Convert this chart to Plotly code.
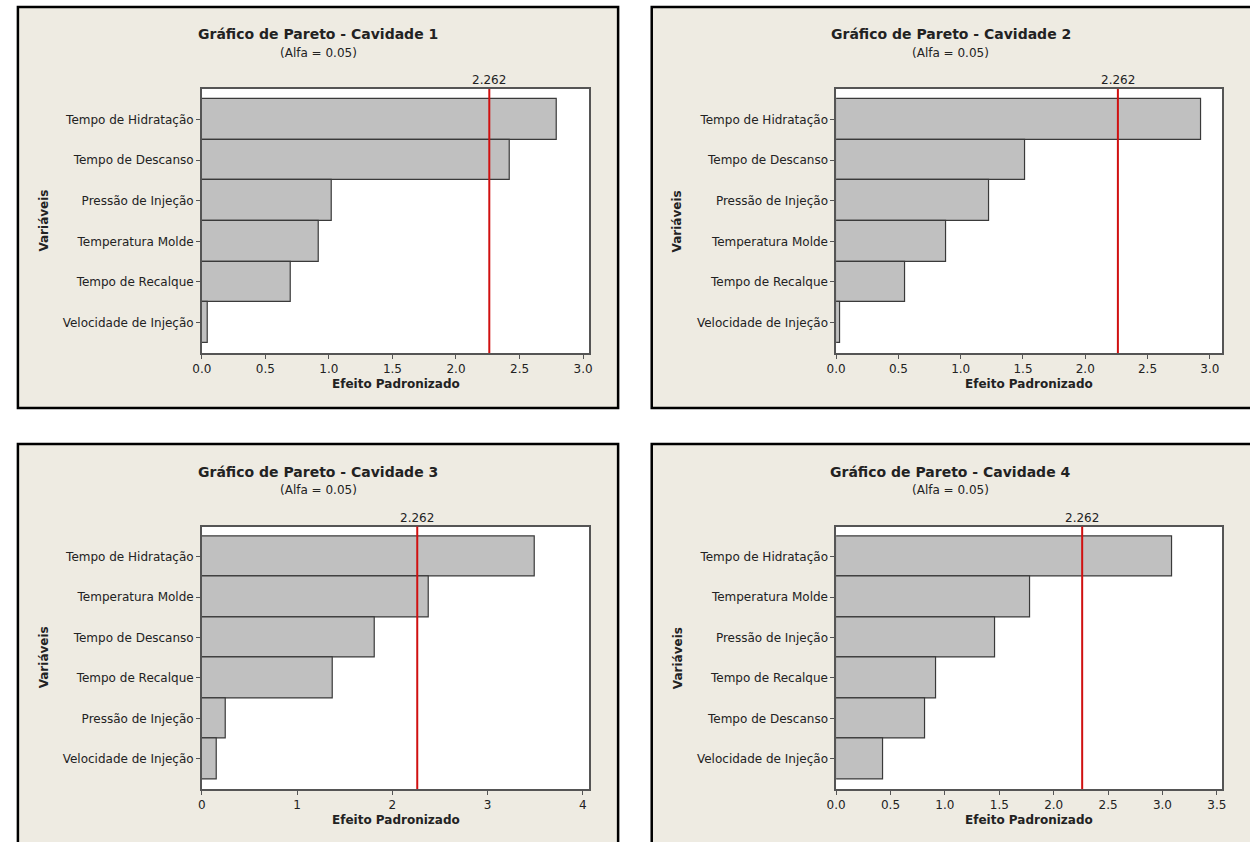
import plotly.graph_objects as go

# ---------------- data ----------------
titles = ["Gráfico de Pareto - Cavidade 1", "Gráfico de Pareto - Cavidade 2",
          "Gráfico de Pareto - Cavidade 3", "Gráfico de Pareto - Cavidade 4"]
subtitle = "(Alfa = 0.05)"
critical = 2.262

cats1 = ["Tempo de Hidratação", "Tempo de Descanso", "Pressão de Injeção",
         "Temperatura Molde", "Tempo de Recalque", "Velocidade de Injeção"]
vals1 = [2.79, 2.42, 1.02, 0.92, 0.70, 0.05]

cats2 = ["Tempo de Hidratação", "Tempo de Descanso", "Pressão de Injeção",
         "Temperatura Molde", "Tempo de Recalque", "Velocidade de Injeção"]
vals2 = [2.93, 1.52, 1.23, 0.88, 0.55, 0.03]

cats3 = ["Tempo de Hidratação", "Temperatura Molde", "Tempo de Descanso",
         "Tempo de Recalque", "Pressão de Injeção", "Velocidade de Injeção"]
vals3 = [3.50, 2.38, 1.82, 1.38, 0.25, 0.16]

cats4 = ["Tempo de Hidratação", "Temperatura Molde", "Pressão de Injeção",
         "Tempo de Recalque", "Tempo de Descanso", "Velocidade de Injeção"]
vals4 = [3.09, 1.78, 1.46, 0.92, 0.82, 0.43]

x_max = [3.05, 3.10, 4.07, 3.55]
x_dtick = [0.5, 0.5, 1, 0.5]
x_fmt = [".1f", ".1f", "d", ".1f"]
x_title = "Efeito Padronizado"
y_title = "Variáveis"

cats_all = [cats1, cats2, cats3, cats4]
vals_all = [vals1, vals2, vals3, vals4]

# ---------------- layout geometry (pixels) ----------------
W, H = 1250, 842
FONT = "DejaVu Sans"
BEIGE = "#EEEBE2"
BAR = "#C0C0C0"
EDGE = "#3a3a3a"
RED = "#D01010"
TXT = "#222222"

def px(x):
    return x / W

def py(y):
    return 1 - y / H

panels = [  # panel box (x0, y0, x1, y1), plot area (x0, y0, x1, y1)
    ((8, 7, 615, 408), (194, 89, 586, 353)),
    ((649, 7, 1256, 408), (835.5, 89, 1226, 353)),
    ((8, 444, 615, 850), (194, 526.5, 586, 789)),
    ((649, 444, 1256, 850), (835.5, 526.5, 1226, 789)),
]

fig = go.Figure()
shapes = []
annotations = []

for i in range(4):
    box, pa = panels[i]
    ax = "" if i == 0 else str(i + 1)
    xa, ya = "x" + ax, "y" + ax
    cats, vals = cats_all[i], vals_all[i]

    fig.add_trace(go.Bar(
        x=vals, y=cats, orientation="h",
        marker=dict(color=BAR, line=dict(color=EDGE, width=1.2)),
        xaxis=xa, yaxis=ya, showlegend=False, hoverinfo="x+y",
    ))

    pad = 0.247
    n = len(cats)
    fig.layout["xaxis" + ax] = dict(
        domain=[px(pa[0]), px(pa[2])], anchor=ya,
        range=[0, x_max[i]], dtick=x_dtick[i], tick0=0, tickformat=x_fmt[i],
        showline=True, linecolor="#555555", linewidth=1.5, mirror=True,
        ticks="outside", ticklen=4, tickcolor="#555555",
        showgrid=False, zeroline=False,
        tickfont=dict(family=FONT, size=12, color=TXT),
    )
    fig.layout["yaxis" + ax] = dict(
        domain=[py(pa[3]), py(pa[1])], anchor=xa,
        type="category", categoryorder="array", categoryarray=cats,
        range=[n - 1 + pad + 0.5, -0.5 - pad],
        showline=True, linecolor="#555555", linewidth=1.5, mirror=True,
        ticks="outside", ticklen=4, tickcolor="#555555",
        showgrid=False, zeroline=False,
        tickfont=dict(family=FONT, size=12, color=TXT),
    )

    # panel background and border
    shapes.append(dict(type="rect", xref="paper", yref="paper",
                       x0=px(box[0]), x1=px(box[2]), y0=py(box[3]), y1=py(box[1]),
                       fillcolor=BEIGE, line=dict(color="black", width=2.5),
                       layer="below"))
    # white plot area
    shapes.append(dict(type="rect", xref="paper", yref="paper",
                       x0=px(pa[0]), x1=px(pa[2]), y0=py(pa[3]), y1=py(pa[1]),
                       fillcolor="white", line=dict(width=0), layer="below"))
    # critical value line
    shapes.append(dict(type="line", xref=xa, yref=ya + " domain",
                       x0=critical, x1=critical, y0=0, y1=1,
                       line=dict(color=RED, width=2), layer="above"))

    cx_box = (box[0] + min(box[2], 1254)) / 2
    annotations += [
        dict(text="<b>" + titles[i] + "</b>", xref="paper", yref="paper",
             x=px(cx_box), y=py(box[1] + 27.5), xanchor="center", yanchor="middle",
             showarrow=False, font=dict(family=FONT, size=14, color=TXT)),
        dict(text=subtitle, xref="paper", yref="paper",
             x=px(cx_box), y=py(box[1] + 46), xanchor="center", yanchor="middle",
             showarrow=False, font=dict(family=FONT, size=12, color=TXT)),
        dict(text=f"{critical:.3f}", xref=xa, yref=ya + " domain",
             x=critical, y=1, xanchor="center", yanchor="bottom", yshift=0,
             showarrow=False, font=dict(family=FONT, size=12, color=TXT)),
        dict(text="<b>" + x_title + "</b>", xref="paper", yref="paper",
             x=px((pa[0] + pa[2]) / 2), y=py(pa[3] + 31), xanchor="center",
             yanchor="middle", showarrow=False,
             font=dict(family=FONT, size=12, color=TXT)),
        dict(text="<b>" + y_title + "</b>", xref="paper", yref="paper",
             x=px(box[0] + 26), y=py((pa[1] + pa[3]) / 2), xanchor="center",
             yanchor="middle", textangle=-90, showarrow=False,
             font=dict(family=FONT, size=12, color=TXT)),
    ]

fig.update_layout(
    width=W, height=H, margin=dict(l=0, r=0, t=0, b=0),
    paper_bgcolor="white", plot_bgcolor="rgba(0,0,0,0)",
    bargap=0, shapes=shapes, annotations=annotations,
)

fig.write_html("out.html",
               config={"displayModeBar": False},
               post_script="document.body.style.margin='0px';"
                           "document.body.style.overflow='hidden';")
